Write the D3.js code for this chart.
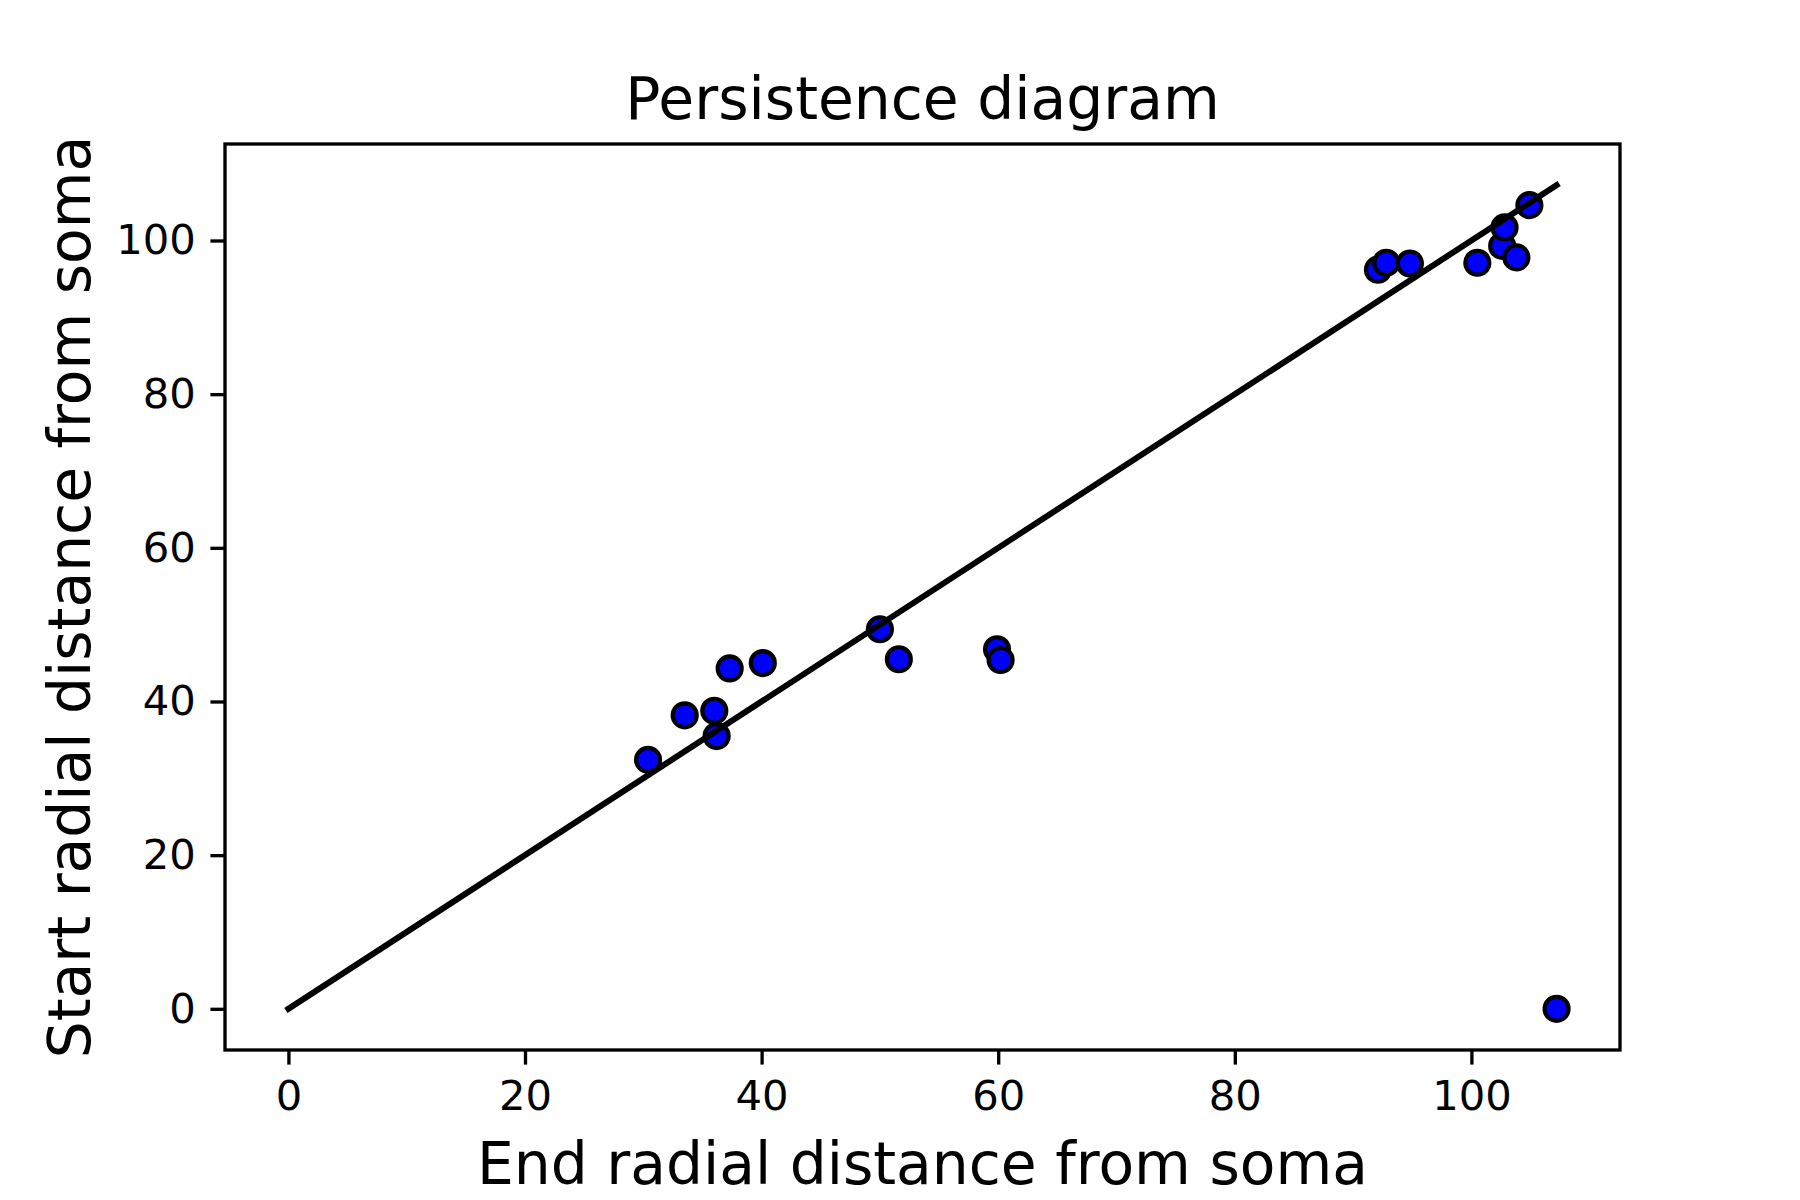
<!DOCTYPE html>
<html>
<head>
<meta charset="utf-8">
<script src="https://cdn.jsdelivr.net/npm/d3@7"></script>
<style>
  body { margin: 0; background: #fff; }
  text { font-family: "DejaVu Sans", sans-serif; fill: #000; }
</style>
</head>
<body>
<div id="chart"></div>
<script>
// Persistence diagram: end vs start radial distance
const svgWidth = 1800
const svgHeight = 1200

// Values
const endDist = [30.4, 33.5, 36.0, 36.2, 37.3, 40.1, 50.0, 51.6, 59.9, 60.2,
  92.1, 92.8, 94.8, 100.5, 102.6, 102.8, 103.8, 104.9, 107.2]
const startDist = [32.4, 38.2, 38.8, 35.5, 44.3, 45.0, 49.4, 45.5, 46.8, 45.4,
  96.2, 97.1, 97.0, 97.1, 99.3, 101.7, 97.8, 104.6, 0]
const tickValues = [0, 20, 40, 60, 80, 100]

let margin = { top: 144, right: 180, bottom: 150, left: 225 }
let width = svgWidth - margin.left - margin.right
let height = svgHeight - margin.top - margin.bottom

let svg = d3
  .select("#chart")
  .append("svg")
  .attr("width", svgWidth)
  .attr("height", svgHeight)

let chartGroup = svg
  .append("g")
  .attr("transform", `translate(${margin.left}, ${margin.top})`)

let data = endDist.map((d, i) => ({ end: d, start: startDist[i] }))

// matplotlib-style 5% margins around the data (diagonal included)
let maxVal = d3.max([d3.max(endDist), d3.max(startDist)])
let pad = maxVal * 0.05
let domain = [0 - pad, maxVal + pad]

let xScale = d3.scaleLinear().domain(domain).range([0, width])
let yScale = d3.scaleLinear().domain(domain).range([height, 0])

let bottomAxis = d3.axisBottom(xScale)
  .tickValues(tickValues)
  .tickSize(14.6)
  .tickPadding(16)
  .tickSizeOuter(0)
let leftAxis = d3.axisLeft(yScale)
  .tickValues(tickValues)
  .tickSize(14.6)
  .tickPadding(14.6)
  .tickSizeOuter(0)

let xAxis = chartGroup
  .append("g")
  .attr("transform", `translate(0, ${height})`)
  .call(bottomAxis)
let yAxis = chartGroup.append("g").call(leftAxis)

;[xAxis, yAxis].forEach(ax => {
  ax.select(".domain").remove()
  ax.selectAll(".tick line").attr("stroke", "#000").attr("stroke-width", 3.33)
  ax.selectAll(".tick text")
    .style("font-family", "DejaVu Sans, sans-serif")
    .style("font-size", "41.7px")
    .attr("fill", "#000")
})

// points
chartGroup
  .selectAll("circle")
  .data(data)
  .enter()
  .append("circle")
  .attr("cx", d => xScale(d.end))
  .attr("cy", d => yScale(d.start))
  .attr("r", 12)
  .attr("fill", "#0000ff")
  .attr("stroke", "#000")
  .attr("stroke-width", 4.17)

// diagonal y = x
chartGroup
  .append("line")
  .attr("x1", xScale(0))
  .attr("y1", yScale(0))
  .attr("x2", xScale(maxVal))
  .attr("y2", yScale(maxVal))
  .attr("stroke", "#000")
  .attr("stroke-width", 6)
  .attr("stroke-linecap", "square")

// frame
chartGroup
  .append("rect")
  .attr("width", width)
  .attr("height", height)
  .attr("fill", "none")
  .attr("stroke", "#000")
  .attr("stroke-width", 3.33)

svg.append("text")
  .attr("x", margin.left + width / 2)
  .attr("y", 119)
  .attr("text-anchor", "middle")
  .style("font-size", "58.3px")
  .text("Persistence diagram")

svg.append("text")
  .attr("x", margin.left + width / 2)
  .attr("y", 1184)
  .attr("text-anchor", "middle")
  .style("font-size", "58.3px")
  .text("End radial distance from soma")

svg.append("text")
  .attr("transform", `translate(90, ${margin.top + height / 2}) rotate(-90)`)
  .attr("text-anchor", "middle")
  .style("font-size", "58.3px")
  .text("Start radial distance from soma")
</script>
</body>
</html>
